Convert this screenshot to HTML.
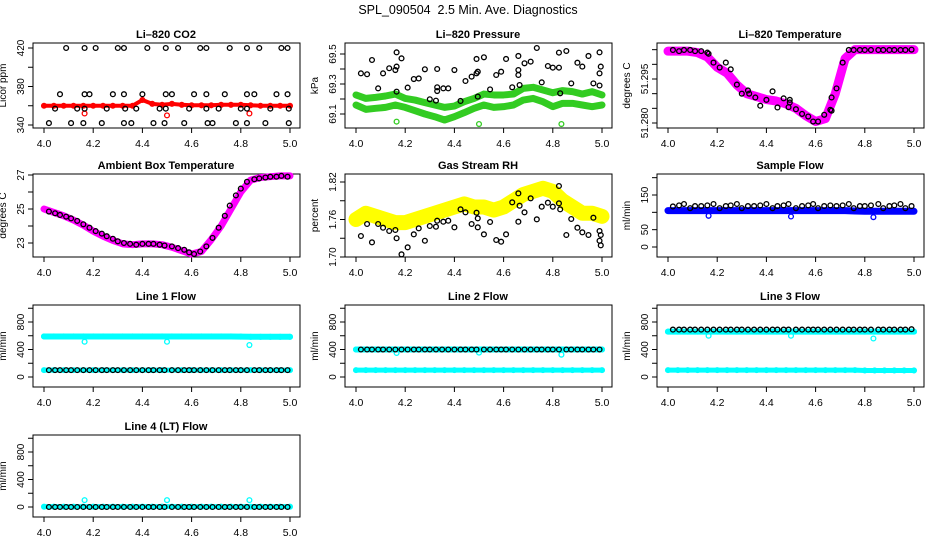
<!DOCTYPE html>
<html><head><meta charset="utf-8"><style>
html,body{margin:0;padding:0;background:#fff}
svg{display:block;font-family:"Liberation Sans",sans-serif}
</style></head><body>
<svg id="chart" width="936" height="540" viewBox="0 0 936 540" xmlns="http://www.w3.org/2000/svg">
<rect width="936" height="540" fill="#fff"/>
<text x="468" y="14" text-anchor="middle" font-size="12.5">SPL_090504&#160; 2.5 Min. Ave. Diagnostics</text>
</svg>
<script>
// ---- shared time arrays ----
const denseT = [4.00,4.04,4.08,4.12,4.16,4.20,4.24,4.28,4.32,4.36,4.40,4.44,4.48,4.52,4.56,4.60,4.64,4.68,4.72,4.76,4.80,4.84,4.88,4.92,4.96,5.00];
const blackT = [4.02,4.045,4.065,4.09,4.11,4.135,4.16,4.185,4.21,4.235,4.255,4.28,4.30,4.325,4.35,4.375,4.40,4.425,4.445,4.47,4.49,4.52,4.545,4.57,4.59,4.61,4.635,4.66,4.685,4.71,4.735,4.755,4.78,4.80,4.825,4.855,4.875,4.90,4.92,4.945,4.965,4.99];
const outT = [4.165,4.50,4.835];

// CO2
const co2Red = [360,360,360,360,360,360,360,360,360,360,366,362,361,362,361,360.5,360.5,360.5,361,361,361,360.5,360,360,360,360];
const co2RedOut = [352,350,352];
const co2BlackX = [4.09,4.165,4.21,4.30,4.325,4.42,4.495,4.545,4.635,4.66,4.755,4.825,4.875,4.965,4.99,
 4.065,4.165,4.185,4.28,4.325,4.40,4.495,4.52,4.61,4.66,4.735,4.825,4.855,4.945,4.99,
 4.045,4.135,4.165,4.255,4.33,4.375,4.47,4.495,4.59,4.66,4.71,4.80,4.825,4.92,4.995,
 4.02,4.11,4.16,4.235,4.325,4.355,4.445,4.49,4.57,4.665,4.685,4.78,4.825,4.90,4.995];
const co2BlackY = [420,420,420,420,420,420,420,420,420,420,420,420,420,420,420,
 372,372,372,372,372,372,372,372,372,372,372,372,372,372,372,
 357,357,357,357,357,357,357,357,357,357,357,357,357,357,357,
 342,342,342,342,342,342,342,342,342,342,342,342,342,342,342];

// Pressure
const presUpper = [69.227,69.204,69.211,69.22,69.233,69.204,69.193,69.176,69.16,69.144,69.153,69.182,69.204,69.233,69.227,69.227,69.233,69.271,69.278,69.26,69.242,69.256,69.249,69.233,69.249,69.227];
const presLower = [69.16,69.131,69.138,69.144,69.16,69.144,69.122,69.1,69.082,69.06,69.082,69.109,69.138,69.16,69.144,69.149,69.16,69.193,69.204,69.182,69.149,69.171,69.171,69.16,69.149,69.16];
const presGreenOut = [69.049,69.033,69.033];
const presBlackX = [4.02,4.045,4.065,4.09,4.11,4.135,4.16,4.165,4.165,4.165,4.185,4.21,4.235,4.255,4.28,4.30,4.325,4.33,4.33,4.33,4.355,4.375,4.40,4.425,4.445,4.47,4.49,4.49,4.495,4.495,4.52,4.545,4.57,4.59,4.61,4.635,4.66,4.66,4.66,4.665,4.685,4.71,4.735,4.755,4.78,4.80,4.825,4.825,4.83,4.855,4.875,4.90,4.92,4.945,4.965,4.99,4.995,4.99,4.99];
const presBlackY = [69.371,69.365,69.46,69.271,69.371,69.405,69.393,69.511,69.416,69.249,69.471,69.276,69.333,69.337,69.398,69.198,69.189,69.40,69.278,69.253,69.271,69.271,69.393,69.187,69.32,69.349,69.371,69.467,69.382,69.216,69.478,69.264,69.36,69.382,69.467,69.278,69.487,69.393,69.36,69.293,69.438,69.449,69.54,69.311,69.42,69.409,69.409,69.509,69.238,69.52,69.304,69.442,69.416,69.487,69.304,69.511,69.416,69.371,69.29];

// Li-820 temperature
const tempMag = [51.3045,51.3045,51.3045,51.304,51.3025,51.299,51.297,51.293,51.290,51.289,51.288,51.2875,51.2865,51.285,51.2825,51.2805,51.2815,51.290,51.302,51.305,51.305,51.305,51.305,51.305,51.305,51.305];
const tempBlackX = [4.02,4.045,4.065,4.09,4.11,4.135,4.16,4.165,4.185,4.21,4.235,4.255,4.28,4.30,4.325,4.33,4.355,4.375,4.40,4.425,4.445,4.47,4.49,4.495,4.495,4.52,4.545,4.57,4.59,4.61,4.635,4.66,4.665,4.665,4.685,4.71,4.735,4.755,4.78,4.80,4.825,4.855,4.875,4.90,4.92,4.945,4.965,4.99];
const tempBlackY = [51.3049,51.3045,51.3049,51.3049,51.3045,51.3045,51.304,51.3036,51.3006,51.2989,51.3006,51.2983,51.2931,51.29,51.2911,51.29,51.2887,51.2859,51.2879,51.2908,51.2853,51.2884,51.2854,51.2879,51.287,51.2847,51.2831,51.2822,51.2805,51.2805,51.2828,51.2845,51.2842,51.2887,51.2918,51.3006,51.3049,51.3049,51.3049,51.3049,51.3049,51.3049,51.3049,51.3049,51.3049,51.3049,51.3049,51.305];

// Ambient box temperature
const ambMag = [25.0,24.8,24.6,24.35,24.05,23.7,23.4,23.15,22.95,22.9,22.95,22.95,22.9,22.75,22.55,22.35,22.5,23.2,24.0,25.0,26.0,26.7,26.85,26.9,26.95,26.95];
const ambBlack = [24.85,24.75,24.65,24.55,24.45,24.3,24.1,23.9,23.7,23.55,23.4,23.25,23.1,23.0,22.95,22.9,22.95,22.95,22.95,22.9,22.85,22.8,22.7,22.6,22.45,22.35,22.5,22.8,23.3,23.9,24.6,25.2,25.8,26.2,26.6,26.75,26.8,26.85,26.9,26.9,26.95,26.9];

// Gas stream RH
const rhYellow = [1.76,1.77,1.765,1.76,1.755,1.755,1.76,1.765,1.77,1.775,1.78,1.785,1.78,1.78,1.775,1.78,1.79,1.80,1.805,1.81,1.805,1.79,1.78,1.77,1.77,1.765];
const rhBlackX = [4.02,4.045,4.065,4.09,4.11,4.135,4.16,4.165,4.185,4.21,4.235,4.255,4.28,4.30,4.325,4.33,4.355,4.375,4.40,4.425,4.445,4.47,4.49,4.495,4.495,4.52,4.545,4.57,4.59,4.61,4.635,4.66,4.66,4.665,4.685,4.71,4.735,4.755,4.78,4.80,4.825,4.825,4.83,4.855,4.875,4.90,4.92,4.945,4.965,4.99,4.995,4.99,4.995];
const rhBlackY = [1.7336,1.7528,1.7235,1.7528,1.7469,1.7416,1.7432,1.730,1.7043,1.7155,1.7363,1.7459,1.726,1.7496,1.7485,1.7581,1.7565,1.7581,1.7475,1.7763,1.7715,1.7528,1.7709,1.7619,1.7475,1.7363,1.756,1.7272,1.7245,1.7363,1.7875,1.8019,1.7565,1.7821,1.7715,1.7939,1.7603,1.7805,1.7869,1.7805,1.8136,1.7859,1.7763,1.7352,1.7608,1.7469,1.7395,1.7352,1.7629,1.7416,1.7352,1.726,1.7187];

// Sample flow
const sampBlue = [105,105,105,105,105,105,105,105,105,105,105,105,105,105,105,105,105,105,105,104,103,103,103,103,103,103];
const sampBlueOut = [90,88,86];
const sampBlack = [117,120,124,112,118,118,120,124,112,118,120,124,112,118,118,120,124,112,118,120,124,112,118,120,124,112,118,120,118,120,124,112,118,118,120,124,112,118,120,124,112,118];

// Line flows
const l1High = [590,590,590,590,590,590,590,590,590,590,590,590,590,590,590,590,590,590,590,590,588,585,585,585,585,585];
const l1Low = [100,100,100,100,100,100,100,100,100,100,100,100,100,100,100,100,100,100,100,100,100,100,100,100,100,100];
const l1Out = [513,513,465];
const l1Black = [100,100,100,100,100,100,100,100,100,100,100,100,100,100,100,100,100,100,100,100,100,100,100,100,100,100,100,100,100,100,100,100,100,100,100,100,100,100,100,100,100,100];
const l2High = [400,400,400,400,400,400,400,400,400,400,400,400,400,400,400,400,400,400,400,400,400,400,400,400,400,400];
const l2Low = [100,100,100,100,100,100,100,100,100,100,100,100,100,100,100,100,100,100,100,100,100,100,100,100,100,100];
const l2Out = [350,355,325];
const l2Black = [400,400,400,400,400,400,400,400,400,400,400,400,400,400,400,400,400,400,400,400,400,400,400,400,400,400,400,400,400,400,400,400,400,400,400,400,400,400,400,400,400,400];
const l3High = [660,660,660,660,660,660,660,660,660,660,660,660,660,660,660,660,660,660,660,660,660,660,660,660,660,660];
const l3Low = [100,100,100,100,100,100,100,100,100,100,100,100,100,100,100,100,100,100,100,100,95,95,95,95,95,95];
const l3Out = [600,600,560];
const l3Black = [690,690,690,690,690,690,690,690,690,690,690,690,690,690,690,690,690,690,690,690,690,690,690,690,690,690,690,690,690,690,690,690,690,690,690,690,690,690,690,690,690,695];
const l4Cyan = [5,5,5,5,5,5,5,5,5,5,5,5,5,5,5,5,5,5,5,5,5,5,5,5,5,5];
const l4Out = [100,100,100];
const l4Black = [0,0,0,0,0,0,0,0,0,0,0,0,0,0,0,0,0,0,0,0,0,0,0,0,0,0,0,0,0,0,0,0,0,0,0,0,0,0,0,0,0,0];

const xTicks = [4.0,4.2,4.4,4.6,4.8,5.0];
const xTickLabels = ["4.0","4.2","4.4","4.6","4.8","5.0"];

const NS = "http://www.w3.org/2000/svg";
const svg = document.getElementById("chart");
const rowTop = [43,174,305,435], rowBot = [128,257,387,517];

function mk(tag, attrs, parent){
  const e = document.createElementNS(NS, tag);
  for (const k in attrs) e.setAttribute(k, attrs[k]);
  parent.appendChild(e);
  return e;
}

function makePanel(col,row,title,ylab,yv0,yp0,yv1,yp1,ticks,labels,key){
  const L = 33 + 312*col, T = rowTop[row], B = rowBot[row];
  const g = mk("g",{},svg);
  
  
  const X = v => L + 11 + (v-4)*246;
  const Y = v => yp0 + (v-yv0)*(yp1-yp0)/(yv1-yv0);
  const t = mk("text",{x:L+133,y:T-5,"text-anchor":"middle","font-size":"11","font-weight":"bold"},g);
  t.textContent = title;
  
  
  const yl = mk("text",{transform:`translate(${L-27},${(T+B)/2}) rotate(-90)`,"text-anchor":"middle","font-size":"10"},g);
  yl.textContent = ylab;
  
  
  ticks.forEach((tv,i)=>{
    const y = Y(tv);
    const tk = mk("line",{x1:L-5,x2:L,y1:y,y2:y,stroke:"#000","stroke-width":"1"},g);
    
    
    if (labels[i]) {
      const lb = mk("text",{transform:`translate(${L-9},${y}) rotate(-90)`,"text-anchor":"middle","font-size":"10"},g);
      lb.textContent = labels[i];
      
      
    }
  });
  xTicks.forEach((tv,i)=>{
    const x = X(tv);
    const tk = mk("line",{x1:x,x2:x,y1:B,y2:B+5,stroke:"#000","stroke-width":"1"},g);
    
    
    const lb = mk("text",{x:x,y:B+19,"text-anchor":"middle","font-size":"10.5"},g);
    lb.textContent = xTickLabels[i];
    
    
  });
  const box = mk("rect",{x:L,y:T,width:267,height:B-T,fill:"none",stroke:"#000","stroke-width":"1"},g);
  
  
  return {g,X,Y};
}

function points(p,xs,ys,color,name,r){
  xs.forEach((xv,i)=>{
    const c = mk("circle",{cx:p.X(xv),cy:p.Y(ys[i]),r:r||2.4,fill:"none",stroke:color,"stroke-width":"1.3"},p.g);
    
    
  });
}
function band(p,xs,ys,color,w,name){
  const pts = xs.map((xv,i)=>p.X(xv)+","+p.Y(ys[i])).join(" ");
  const pl = mk("polyline",{points:pts,fill:"none",stroke:color,"stroke-width":w,"stroke-linejoin":"round","stroke-linecap":"round"},p.g);
  
  
  points(p,xs,ys,color,name+'-point');
}

let p;
p = makePanel(0,0,"Li\u2013820 CO2","Licor ppm",420,48,340,125,[340,360,380,400,420],["340","","380","","420"],"co2");
band(p,denseT,co2Red,"#ff0000",4,"co2-red-band");
points(p,outT,co2RedOut,"#ff0000","co2-red-outlier");
points(p,co2BlackX,co2BlackY,"#000","co2-black-point");

p = makePanel(1,0,"Li\u2013820 Pressure","kPa",69.5,54,69.1,114,[69.1,69.2,69.3,69.4,69.5],["69.1","","69.3","","69.5"],"pressure");
band(p,denseT,presUpper,"#33cc22",7,"pressure-green-upper");
band(p,denseT,presLower,"#33cc22",7,"pressure-green-lower");
points(p,outT,presGreenOut,"#33cc22","pressure-green-outlier");
points(p,presBlackX,presBlackY,"#000","pressure-black-point");

p = makePanel(2,0,"Li\u2013820 Temperature","degrees C",51.280,123,51.295,79,[51.280,51.285,51.290,51.295,51.300,51.305],["51.280","","","51.295","",""],"li820-temp");
band(p,denseT,tempMag,"#ff00ff",9,"li820-temp-magenta-band");
points(p,tempBlackX,tempBlackY,"#000","li820-temp-black-point");

p = makePanel(0,1,"Ambient Box Temperature","degrees C",27,175,23,243,[23,24,25,26,27],["23","","25","","27"],"ambient");
band(p,denseT,ambMag,"#ff00ff",7,"ambient-magenta-band");
points(p,blackT,ambBlack,"#000","ambient-black-point");

p = makePanel(1,1,"Gas Stream RH","percent",1.82,182,1.70,257,[1.70,1.73,1.76,1.79,1.82],["1.70","","1.76","","1.82"],"rh");
band(p,denseT,rhYellow,"#ffff00",15,"rh-yellow-band");
points(p,rhBlackX,rhBlackY,"#000","rh-black-point");

p = makePanel(2,1,"Sample Flow","ml/min",150,195,0,247,[0,50,100,150,200],["0","50","","150",""],"sample-flow");
band(p,denseT,sampBlue,"#0000ff",7,"sample-flow-blue-band");
points(p,outT,sampBlueOut,"#0000ff","sample-flow-blue-outlier");
points(p,blackT,sampBlack,"#000","sample-flow-black-point");

const flowTicks = [0,200,400,600,800,1000], flowLabels = ["0","","400","","800",""];
p = makePanel(0,2,"Line 1 Flow","ml/min",800,322,0,377,flowTicks,flowLabels,"line1-flow");
band(p,denseT,l1High,"#00ffff",6,"line1-cyan-high");
band(p,denseT,l1Low,"#00ffff",5,"line1-cyan-low");
points(p,outT,l1Out,"#00ffff","line1-cyan-outlier");
points(p,blackT,l1Black,"#000","line1-black-point");

p = makePanel(1,2,"Line 2 Flow","ml/min",800,322,0,377,flowTicks,flowLabels,"line2-flow");
band(p,denseT,l2High,"#00ffff",6,"line2-cyan-high");
band(p,denseT,l2Low,"#00ffff",5,"line2-cyan-low");
points(p,outT,l2Out,"#00ffff","line2-cyan-outlier");
points(p,blackT,l2Black,"#000","line2-black-point");

p = makePanel(2,2,"Line 3 Flow","ml/min",800,322,0,377,flowTicks,flowLabels,"line3-flow");
band(p,denseT,l3High,"#00ffff",6,"line3-cyan-high");
band(p,denseT,l3Low,"#00ffff",5,"line3-cyan-low");
points(p,outT,l3Out,"#00ffff","line3-cyan-outlier");
points(p,blackT,l3Black,"#000","line3-black-point");

p = makePanel(0,3,"Line 4 (LT) Flow","ml/min",800,452,0,507,flowTicks,flowLabels,"line4-flow");
band(p,denseT,l4Cyan,"#00ffff",5,"line4-cyan-band");
points(p,outT,l4Out,"#00ffff","line4-cyan-outlier");
points(p,blackT,l4Black,"#000","line4-black-point");
</script>
</body></html>
